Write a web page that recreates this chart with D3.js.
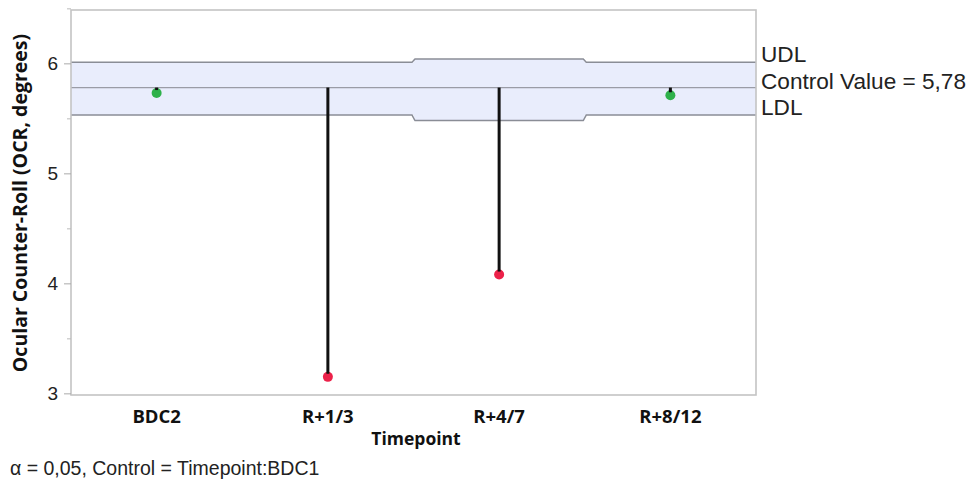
<!DOCTYPE html>
<html>
<head>
<meta charset="utf-8">
<script src="https://cdn.jsdelivr.net/npm/d3@7"></script>
<style>
  body { margin: 0; background: #fff; }
  text { font-family: "Liberation Sans", Arial, sans-serif; }
  .bold { font-family: "Open Sans", "Noto Sans", sans-serif; font-weight: 700; }
</style>
</head>
<body>
<svg width="967" height="482"></svg>
<script>
// data
var timepoints = ["BDC2", "R+1/3", "R+4/7", "R+8/12"];
var means = [5.73, 3.15, 4.08, 5.71];
var udl = [6.01, 6.01, 6.04, 6.01];
var ldl = [5.53, 5.53, 5.48, 5.53];
var significant = [false, true, true, false];
var controlValue = 5.78;
var yTicks = [3, 4, 5, 6];
var yMinorTicks = [3.5, 4.5, 5.5, 6.5];

var svg = d3.select("svg");
var margin = {left: 71, right: 211, top: 10, bottom: 87};
var width = 967 - margin.left - margin.right,
    height = 482 - margin.top - margin.bottom;

var g = svg.append("g").attr("transform", "translate(" + margin.left + "," + margin.top + ")");

var x = d3.scaleBand().domain(timepoints).range([0, width]);
var y = d3.scaleLinear().domain([2.985, 6.485]).range([height, 0]);

// decision limits band, stepped per timepoint
var rows = timepoints.map(function(t, i) {
    return {t: t, udl: udl[i], ldl: ldl[i]};
});

var stepPts = function(key) {
    var pts = [];
    rows.forEach(function(d) {
        pts.push([x(d.t), y(d[key])]);
        pts.push([x(d.t) + x.bandwidth(), y(d[key])]);
    });
    return pts;
};

var upper = stepPts("udl"), lower = stepPts("ldl");

g.append("path")
    .attr("d", d3.line()(upper.concat(lower.slice().reverse())) + "Z")
    .attr("fill", "#e9edfc");

// small slanted steps like the original
function steppedLine(pts) {
    var out = [pts[0]];
    for (var i = 1; i < pts.length; i++) {
        var p = pts[i], prev = out[out.length - 1];
        if (p[1] !== prev[1] && Math.abs(p[0] - prev[0]) < 0.01) {
            out[out.length - 1] = [prev[0] - 1.5, prev[1]];
            out.push([p[0] + 1.5, p[1]]);
        } else out.push(p);
    }
    return d3.line()(out);
}

[upper, lower].forEach(function(pts) {
    g.append("path")
        .attr("d", steppedLine(pts))
        .attr("fill", "none")
        .attr("stroke", "#8a8d96")
        .attr("stroke-width", 1.4);
});

g.append("line")
    .attr("x1", 0).attr("x2", width)
    .attr("y1", y(controlValue)).attr("y2", y(controlValue))
    .attr("stroke", "#9a9ca6")
    .attr("stroke-width", 1.2);

// frame
g.append("rect")
    .attr("x", 0).attr("y", 0)
    .attr("width", width).attr("height", height)
    .attr("fill", "none")
    .attr("stroke", "#c4c4c4")
    .attr("stroke-width", 1.6);

g.selectAll(".pt")
    .data(means)
    .enter().append("circle")
    .attr("class", "pt")
    .attr("cx", function(d, i) { return x(timepoints[i]) + x.bandwidth() / 2; })
    .attr("cy", function(d) { return y(d); })
    .attr("r", 5)
    .attr("fill", function(d, i) { return significant[i] ? "#ec2149" : "#2eb14a"; });

// needles drawn over the dots, stopping near the top of each dot
g.selectAll(".needle")
    .data(means)
    .enter().append("line")
    .attr("class", "needle")
    .attr("x1", function(d, i) { return x(timepoints[i]) + x.bandwidth() / 2; })
    .attr("x2", function(d, i) { return x(timepoints[i]) + x.bandwidth() / 2; })
    .attr("y1", y(controlValue))
    .attr("y2", function(d) { return y(d) - 3; })
    .attr("stroke", "#111")
    .attr("stroke-width", 3);

// y axis
var yAxis = g.append("g")
    .call(d3.axisLeft(y).tickValues(yTicks).tickSize(7).tickPadding(6).tickFormat(d3.format("d")));
yAxis.select(".domain").remove();
yAxis.selectAll("line").attr("stroke", "#aaa");
yAxis.selectAll("text").attr("font-size", 19).attr("fill", "#222")
    .style("font-family", "'Liberation Sans', Arial, sans-serif");

var yMinor = g.append("g")
    .call(d3.axisLeft(y).tickValues(yMinorTicks).tickSize(4).tickFormat(""));
yMinor.select(".domain").remove();
yMinor.selectAll("line").attr("stroke", "#bbb");

// x axis labels
var xAxis = g.append("g")
    .attr("transform", "translate(0," + height + ")")
    .call(d3.axisBottom(x).tickSize(0).tickPadding(0));
xAxis.select(".domain").remove();
xAxis.selectAll("text")
    .attr("class", "bold")
    .attr("dy", null)
    .attr("y", 28)
    .attr("font-size", 18.5)
    .attr("fill", "#111");

svg.append("text")
    .attr("class", "bold")
    .attr("x", 416).attr("y", 445)
    .attr("text-anchor", "middle")
    .attr("font-size", 17.5)
    .attr("fill", "#111")
    .text("Timepoint");

svg.append("text")
    .attr("class", "bold")
    .attr("transform", "translate(27,203) rotate(-90)")
    .attr("text-anchor", "middle")
    .attr("font-size", 19.5)
    .attr("fill", "#111")
    .text("Ocular Counter-Roll (OCR, degrees)");

// right side labels
var rx = margin.left + width + 5;
var labels = [
    {t: "UDL", v: udl[0], dy: 0},
    {t: "Control Value = 5,78", v: controlValue, dy: 1.5},
    {t: "LDL", v: ldl[0], dy: 0}
];
svg.selectAll(".rl")
    .data(labels)
    .enter().append("text")
    .attr("class", "rl")
    .attr("x", rx)
    .attr("y", function(d) { return margin.top + y(d.v) + d.dy; })
    .attr("font-size", 22.6)
    .attr("fill", "#222")
    .text(function(d) { return d.t; });

svg.append("text")
    .attr("x", 10).attr("y", 475)
    .attr("font-size", 19.5)
    .attr("fill", "#222")
    .text("α = 0,05, Control = Timepoint:BDC1");
</script>
</body>
</html>
